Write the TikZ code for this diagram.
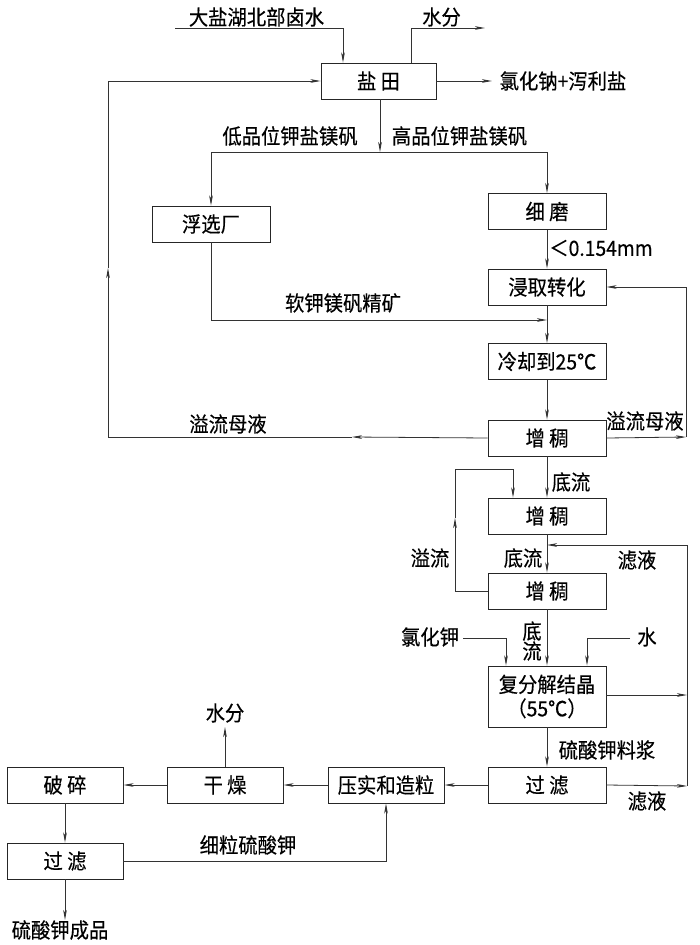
\documentclass[tikz,border=0pt]{standalone}
\usepackage{fontspec}
\setmainfont{Noto Sans CJK SC}[FakeStretch=0.92,FakeBold=0.35]
\usetikzlibrary{arrows.meta,calc}
\begin{document}
\begin{tikzpicture}[x=1pt,y=-1pt,
  font=\fontsize{21}{24}\selectfont,
  line width=0.8pt,
  box/.style={draw=black!85,line width=0.9pt,minimum width=118pt,minimum height=36pt,inner sep=0pt,align=center},
  arr/.style={-{Stealth[length=10pt,width=3.6pt,inset=2.5pt]}},
  ln/.style={draw=black!80},
  lab/.style={inner sep=0pt,align=center}]
\useasboundingbox (0,0) rectangle (700,945);
% boxes
\node[box,minimum width=115pt] (yt) at (378.5,81) {盐 田};
\node[box] (fx) at (211,224) {浮选厂};
\node[box] (xm) at (547,211.5) {细 磨};
\node[box] (jq) at (547,287) {浸取转化};
\node[box] (lq) at (547,361.5) {冷却到25℃};
\node[box] (zc1) at (547,438) {增 稠};
\node[box] (zc2) at (547,516) {增 稠};
\node[box] (zc3) at (547,591) {增 稠};
\node[box,minimum height=61pt] (ff) at (547,696.5) {复分解结晶\\（55℃）};
\node[box] (gl) at (547,785) {过 滤};
\node[box,minimum width=116pt] (ys) at (386,785) {压实和造粒};
\node[box,minimum width=116pt] (gz) at (225,785) {干 燥};
\node[box,minimum width=116pt] (ps) at (65,785) {破 碎};
\node[box,minimum width=116pt] (gl2) at (65,861) {过 滤};
% coordinates
\coordinate (in1) at (175,28);
\coordinate (out1) at (485,28);
\coordinate (out2) at (492,81);
\coordinate (j1) at (380,152);
\coordinate (j2) at (547,320);
\coordinate (m1) at (352,437);
\coordinate (c1) at (108,437);
\coordinate (m2) at (108,268);
\coordinate (c2) at (108,81);
\coordinate (r1) at (686,437);
\coordinate (p1) at (455,591);
\coordinate (p2) at (455,518);
\coordinate (p3) at (455,469);
\coordinate (f1) at (687,786);
\coordinate (f2) at (687,695);
\coordinate (f3) at (687,545);
\coordinate (f4) at (547,545);
\coordinate (k1) at (463,638);
\coordinate (w1) at (630,638);
\coordinate (g1) at (386,861);
\coordinate (w2) at (225,727);
\coordinate (fin) at (65,920);
% labels
\node[lab] (t1) at (256.5,17) {大盐湖北部卤水};
\node[lab] (t2) at (441.5,17) {水分};
\node[lab] (t3) at (563,81) {氯化钠+泻利盐};
\node[lab] (t4) at (290,136) {低品位钾盐镁矾};
\node[lab] (t5) at (459.5,136) {高品位钾盐镁矾};
\node[lab] (t6) at (601,248) {＜0.154mm};
\node[lab] (t7) at (343,303) {软钾镁矾精矿};
\node[lab] (t8) at (228,424) {溢流母液};
\node[lab] (t9) at (645,421) {溢流母液};
\node[lab] (t10) at (571,482) {底流};
\node[lab] (t11) at (523,558) {底流};
\node[lab] (t12) at (430,558) {溢流};
\node[lab] (t13) at (637,560) {滤液};
\node[lab] (t14) at (532,641) {底\\[-4pt]流};
\node[lab] (t15) at (430,637) {氯化钾};
\node[lab] (t16) at (647,637) {水};
\node[lab] (t17) at (607,750) {硫酸钾料浆};
\node[lab] (t18) at (647,801) {滤液};
\node[lab] (t19) at (225,713) {水分};
\node[lab] (t20) at (248,845) {细粒硫酸钾};
\node[lab] (t21) at (60,930) {硫酸钾成品};
% connectors
\draw[ln,arr] (in1) -| ([xshift=-35.5pt]yt.north);
\draw[ln,arr] ([xshift=32.5pt]yt.north) |- (out1);
\draw[ln,arr] (yt.east) -- (out2);
\draw[ln,arr] (yt.south -| j1) -- (j1);
\draw[ln,arr] (j1) -| (fx.north);
\draw[ln,arr] (j1) -| (xm.north);
\draw[ln,arr] (xm) -- (jq);
\draw[ln,arr] (fx.south) |- (j2);
\draw[ln,arr] (jq) -- (lq);
\draw[ln,arr] (lq) -- (zc1);
\draw[ln,arr] (zc1.west) -- (m1);
\draw[ln] (m1) -- (c1);
\draw[ln,arr] (c1) -- (m2);
\draw[ln,arr] (m2) -- (c2) -- (yt.west);
\draw[ln,arr] (zc1.east) -- (r1);
\draw[ln,arr] (r1) |- (jq.east);
\draw[ln,arr] (zc1) -- (zc2);
\draw[ln,arr] (zc2) -- (zc3);
\draw[ln,arr] (zc3.west) -- (p1) -- (p2);
\draw[ln,arr] (p2) -- (p3) -| ([xshift=-34pt]zc2.north);
\draw[ln,arr] (gl.east) -- (f1);
\draw[ln,arr] (ff.east |- f2) -- (f2);
\draw[ln,arr] (f1) -- (f3) -- (f4);
\draw[ln,arr] (zc3) -- (ff);
\draw[ln,arr] (k1) -| ([xshift=-41pt]ff.north);
\draw[ln,arr] (w1) -| ([xshift=40pt]ff.north);
\draw[ln,arr] (ff) -- (gl);
\draw[ln,arr] (gl) -- (ys);
\draw[ln,arr] (ys) -- (gz);
\draw[ln,arr] (gz) -- (ps);
\draw[ln,arr] (gz.north) -- (w2);
\draw[ln,arr] (ps) -- (gl2);
\draw[ln,arr] (gl2.east) -- (g1) -- (ys.south);
\draw[ln,arr] (gl2.south) -- (fin);
\end{tikzpicture}
\end{document}
